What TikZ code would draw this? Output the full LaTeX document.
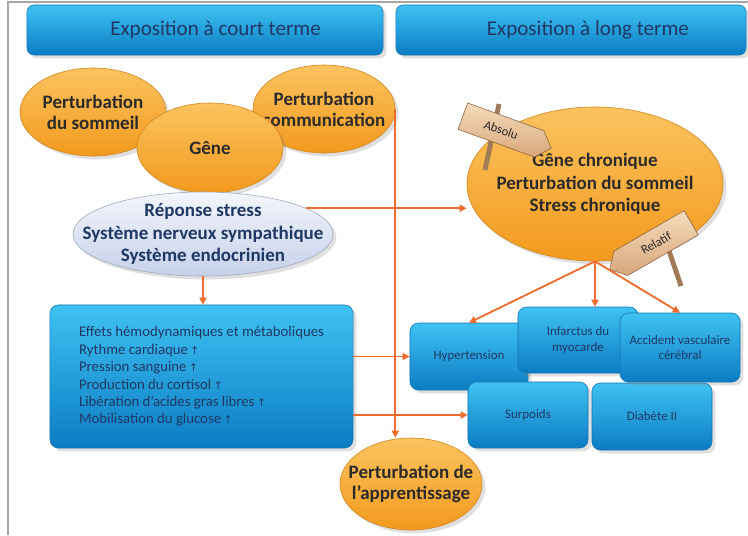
\documentclass[tikz,border=0pt]{standalone}
\usepackage{fontspec}
\setmainfont{Carlito}
\newfontfamily\arrowfont{DejaVu Sans}
\usetikzlibrary{arrows.meta, positioning, shapes.geometric, shapes.symbols, shadows}
\definecolor{blobtop}{HTML}{FBC35F}
\definecolor{blobbot}{HTML}{F39A1E}
\definecolor{boxtop}{HTML}{3FC2F3}
\definecolor{boxbot}{HTML}{0B7CC3}
\definecolor{boxline}{HTML}{1673B0}
\definecolor{navy}{HTML}{1F3864}
\definecolor{darktext}{HTML}{2A2A2A}
\definecolor{linkorange}{HTML}{EF6C2C}
\definecolor{stresstop}{HTML}{F3F6FB}
\definecolor{stressbot}{HTML}{C6D1EA}
\definecolor{woodtop}{HTML}{F5DCBC}
\definecolor{woodbot}{HTML}{D8A77C}
\definecolor{woodline}{HTML}{8C5F3C}
\definecolor{post}{HTML}{A07B58}
\tikzstyle{blob} = [ellipse, inner sep=-30pt, 
top color=blobtop, 
bottom color=blobbot, 
draw=blobbot!85!black, 
align=center, 
text=darktext,
font=\fontsize{13.5}{15}\selectfont\bfseries,
drop shadow={opacity=0.25}]
\tikzstyle{tile} = [rectangle, rounded corners=6pt, 
top color=boxtop, 
bottom color=boxbot, 
draw=boxline, 
align=center, 
text=navy,
font=\fontsize{9.2}{10.8}\selectfont,
drop shadow={opacity=0.25}]
\tikzstyle{header} = [tile, rounded corners=5pt, minimum height=1.25cm, font=\fontsize{15}{17}\selectfont]
\tikzstyle{sign} = [signal, signal pointer angle=95, 
top color=woodtop, bottom color=woodbot, draw=woodline, 
minimum width=2.35cm, minimum height=0.7cm, inner sep=1pt,
font=\fontsize{9}{10}\selectfont, text=darktext]
\tikzstyle{arrow} = [-{Triangle[length=5pt, width=5pt]}, line width=1.3pt, linkorange]
\newcommand{\up}{\,{\arrowfont\fontsize{7.5}{8}\selectfont ↑}}

\begin{document}
\begin{tikzpicture} [x=0.025cm, y=-0.025cm]
		
		% Canvas
		\useasboundingbox (0,0) rectangle (748,535);
		\clip (0,0) rectangle (748,535);
		\fill[white] (0,0) rectangle (748,535);
		\draw[gray!70, line width=0.8pt] (8,535) -- (8,2) -- (748,2);
		
		% Headers
		\node[header, minimum width=8.9cm] (shortT) at (205,30) {\hspace*{15pt}Exposition à court terme};
		\node[header, minimum width=8.75cm] (longT) at (571,30) {\hspace*{24pt}Exposition à long terme};
		
		% Short term effects
		\node[blob, minimum width=3.65cm, minimum height=2.2cm] (sommeil) at (93,112) {Perturbation\\du sommeil};
		\node[blob, minimum width=3.55cm, minimum height=2.2cm] (comm) at (324,109) {Perturbation\\communication};
		\node[blob, minimum width=3.65cm, minimum height=2.25cm] (gene) at (210,148) {Gêne};
		\node[blob, top color=stresstop, bottom color=stressbot, draw=stressbot!80!black, text=navy,
			font=\fontsize{13.5}{16}\selectfont\bfseries,
			minimum width=6.5cm, minimum height=2.1cm] (stress) at (203,234) {Réponse stress\\Système nerveux sympathique\\Système endocrinien};
		
		\node[tile, align=left, font=\fontsize{10.5}{12.4}\selectfont,
			minimum width=7.575cm, minimum height=3.575cm] (effets) at (201.5,376.5) {
			Effets hémodynamiques et métaboliques\\
			Rythme cardiaque\up\\
			Pression sanguine\up\\
			Production du cortisol\up\\
			Libération d'acides gras libres\up\\
			Mobilisation du glucose\up
		};
		
		\node[blob, minimum width=3.55cm, minimum height=2.3cm] (appr) at (411,484) {Perturbation de\\l'apprentissage};
		
		% Long term effects
		\node[blob, font=\fontsize{13.5}{16}\selectfont\bfseries,
			minimum width=6.4cm, minimum height=3.85cm] (chronic) at (595,184) {Gêne chronique\\Perturbation du sommeil\\Stress chronique};
		
		\node[tile, minimum width=2.95cm, minimum height=1.675cm] (hyper) at (469,356.5) {Hypertension};
		\node[tile, minimum width=3cm, minimum height=1.65cm] (surp) at (528,415) {Surpoids};
		\node[tile, minimum width=3cm, minimum height=1.675cm] (diab) at (652,416.5) {Diabète II};
		\node[tile, minimum width=3cm, minimum height=1.65cm] (infarct) at (578,340) {Infarctus du\\myocarde};
		\node[tile, minimum width=3cm, minimum height=1.725cm] (acc) at (680,347.5) {Accident vasculaire\\cérébral};
		
		% Sign posts
		\draw[post, line width=3.5pt] (499,104) -- (485,170);
		\node[sign, signal to=east, rotate=-20] (absolu) at (501,130) {Absolu};
		\draw[post, line width=3.5pt] (664,236) -- (681,286);
		\node[sign, signal to=west, rotate=30] (relatif) at (656,243) {Relatif};
		
		% Connections
		\draw[arrow] (comm.east) -- (comm.east |- appr.north);
		\draw[arrow] (stress.14) -- (stress.14 -| chronic.west);
		\draw[arrow] (stress.south) -- (stress.south |- effets.north);
		\draw[arrow] (effets.east |- hyper.west) -- (hyper.west);
		\draw[arrow] (effets.east |- surp.west) -- (surp.west);
		\foreach \t in {hyper, acc}
			\draw[arrow] (chronic.south) -- (\t.north);
		\draw[arrow] (chronic.south) -- (chronic.south |- infarct.north);
		
	\end{tikzpicture}
\end{document}
